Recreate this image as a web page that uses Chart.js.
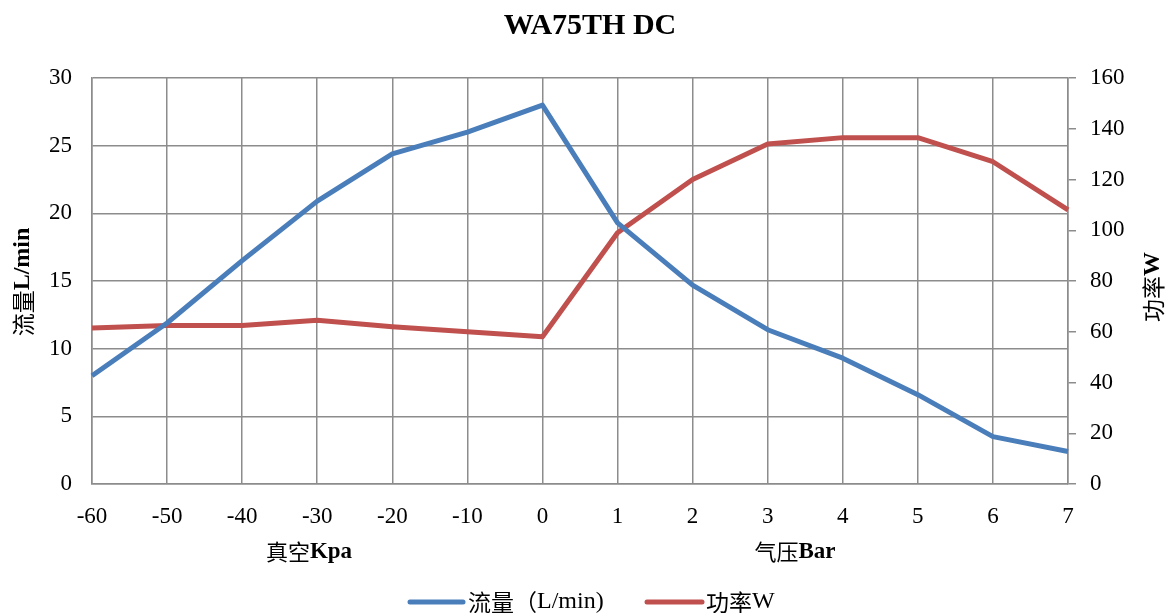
<!DOCTYPE html>
<html>
<head>
<meta charset="utf-8">
<script src="https://cdn.jsdelivr.net/npm/chart.js@4"></script>
<style>
  html, body { margin: 0; padding: 0; background: #fff; }
  #wrap { width: 1167px; height: 613px; }
</style>
</head>
<body>
<div id="wrap"><canvas id="chart" width="1167" height="613"></canvas></div>
<script>
// Categorias do eixo X (vácuo kPa / pressão bar)
const categories = ['-60', '-50', '-40', '-30', '-20', '-10', '0', '1', '2', '3', '4', '5', '6', '7'];
// Vazão L/min (eixo esquerdo)
const flowValues = [8.0, 11.9, 16.5, 20.9, 24.4, 26.0, 28.0, 19.3, 14.7, 11.4, 9.3, 6.6, 3.5, 2.4];
// Potência W (eixo direito)
const powerValues = [61.5, 62.5, 62.5, 64.5, 62, 60, 58, 99, 120, 134, 136.5, 136.5, 127, 108];

const titleText = 'WA75TH DC';
const flowLabel = '流量（L/min）';
const powerLabel = '功率W';

const SERIF = '"Liberation Serif", "Noto Sans CJK SC", serif';
const CJK = '"Noto Sans CJK SC", "Liberation Serif", serif';
const BLUE = '#4a7ebb';
const RED = '#c0504d';
const GRID = '#8c8c8c';

// Desenha texto com partes em estilos diferentes (normal + negrito)
const drawParts = (ctx, parts, x, y, align) => {
    let total = 0;
    parts.forEach(p => { ctx.font = p.font; total += ctx.measureText(p.text).width; });
    let cx = align === 'center' ? x - total / 2 : x;
    ctx.textAlign = 'left';
    ctx.textBaseline = 'middle';
    parts.forEach(p => {
        ctx.font = p.font;
        ctx.fillText(p.text, cx, y);
        cx += ctx.measureText(p.text).width;
    });
};

const decorPlugin = {
    id: 'decor',
    afterDraw(chart) {
        const ctx = chart.ctx;
        ctx.save();
        ctx.fillStyle = '#000';

        // Título
        ctx.font = 'bold 30px ' + SERIF;
        ctx.textAlign = 'center';
        ctx.textBaseline = 'middle';
        ctx.fillText(titleText, 590, 26);

        // Título do eixo esquerdo
        ctx.save();
        ctx.translate(23, 282);
        ctx.rotate(-Math.PI / 2);
        drawParts(ctx, [
            { text: '流量', font: '23px ' + CJK },
            { text: 'L/min', font: 'bold 24px ' + SERIF }
        ], 0, 0, 'center');
        ctx.restore();

        // Título do eixo direito
        ctx.save();
        ctx.translate(1153, 287);
        ctx.rotate(-Math.PI / 2);
        drawParts(ctx, [
            { text: '功率', font: '23px ' + CJK },
            { text: 'W', font: 'bold 24px ' + SERIF }
        ], 0, 0, 'center');
        ctx.restore();

        // Rótulos sob o eixo X
        drawParts(ctx, [
            { text: '真空', font: '22px ' + CJK },
            { text: 'Kpa', font: 'bold 23px ' + SERIF }
        ], 309, 552, 'center');
        drawParts(ctx, [
            { text: '气压', font: '22px ' + CJK },
            { text: 'Bar', font: 'bold 23px ' + SERIF }
        ], 795, 552, 'center');

        // Legenda
        const legendY = 602;
        ctx.lineWidth = 5;
        ctx.lineCap = 'round';
        ctx.strokeStyle = BLUE;
        ctx.beginPath(); ctx.moveTo(410, legendY); ctx.lineTo(463, legendY); ctx.stroke();
        ctx.strokeStyle = RED;
        ctx.beginPath(); ctx.moveTo(647, legendY); ctx.lineTo(702, legendY); ctx.stroke();
        drawParts(ctx, [
            { text: '流量', font: '23px ' + CJK },
            { text: '（', font: '23px ' + CJK },
            { text: 'L/min)', font: '24px ' + SERIF }
        ], 468, legendY, 'left');
        drawParts(ctx, [
            { text: '功率', font: '23px ' + CJK },
            { text: 'W', font: '24px ' + SERIF }
        ], 706, legendY, 'left');

        ctx.restore();
    }
};

new Chart(document.getElementById('chart'), {
    type: 'line',
    data: {
        labels: categories,
        datasets: [{
            label: flowLabel,
            data: flowValues,
            yAxisID: 'y',
            borderColor: BLUE,
            backgroundColor: BLUE,
            borderWidth: 5,
            pointRadius: 0,
            tension: 0,
            borderJoinStyle: 'round'
        }, {
            label: powerLabel,
            data: powerValues,
            yAxisID: 'y1',
            borderColor: RED,
            backgroundColor: RED,
            borderWidth: 5,
            pointRadius: 0,
            tension: 0,
            borderJoinStyle: 'round'
        }]
    },
    options: {
        responsive: false,
        animation: false,
        devicePixelRatio: 1,
        layout: { padding: { top: 78, bottom: 0, left: 0, right: 0 } },
        plugins: {
            legend: { display: false },
            title: { display: false },
            tooltip: { enabled: false }
        },
        scales: {
            x: {
                type: 'category',
                offset: false,
                grid: { color: GRID, lineWidth: 1.5, drawTicks: false },
                border: { color: GRID, width: 1.5 },
                ticks: {
                    color: '#000',
                    padding: 19,
                    maxRotation: 0,
                    autoSkip: false,
                    font: { family: SERIF, size: 23 }
                },
                afterFit: (scale) => { scale.height = 613 - 484; }
            },
            y: {
                position: 'left',
                min: 0,
                max: 30,
                grid: { color: GRID, lineWidth: 1.5, drawTicks: false },
                border: { color: GRID, width: 1.5 },
                ticks: {
                    stepSize: 5,
                    color: '#000',
                    padding: 20,
                    font: { family: SERIF, size: 23 }
                },
                afterFit: (scale) => { scale.width = 92; }
            },
            y1: {
                position: 'right',
                min: 0,
                max: 160,
                grid: { drawOnChartArea: false, color: GRID, lineWidth: 1.5, tickLength: 8 },
                border: { color: GRID, width: 1.5 },
                ticks: {
                    stepSize: 20,
                    color: '#000',
                    padding: 14,
                    font: { family: SERIF, size: 23 }
                },
                afterFit: (scale) => { scale.width = 1167 - 1068; }
            }
        }
    },
    plugins: [decorPlugin]
});
</script>
</body>
</html>
